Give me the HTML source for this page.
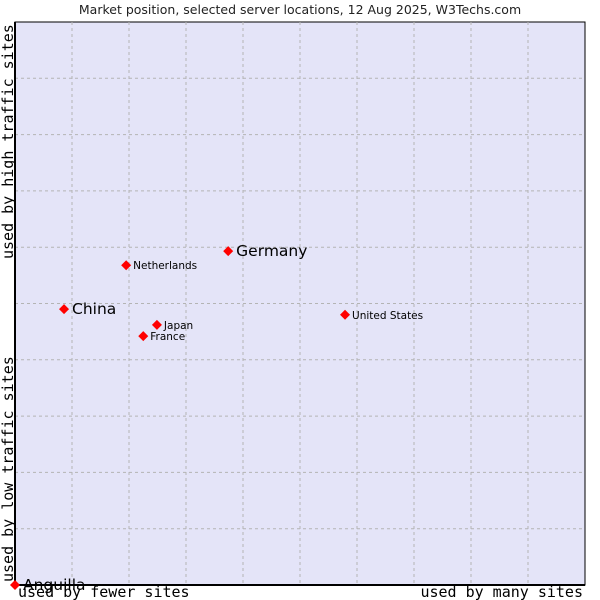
<!DOCTYPE html>
<html><head><meta charset="utf-8"><style>body{margin:0;background:#fff}svg{display:block}</style></head>
<body>
<svg id="chart" width="600" height="600" xmlns="http://www.w3.org/2000/svg">
<text x="300" y="14" text-anchor="middle" font-family="DejaVu Sans, sans-serif" font-size="12.5" fill="#222">Market position, selected server locations, 12 Aug 2025, W3Techs.com</text>
<rect x="15" y="22" width="570" height="563" fill="#e4e4f8" stroke="#000" stroke-width="1"/>
<g id="grid"></g>
<line x1="15" y1="22" x2="15" y2="585" stroke="#000" stroke-width="2"/>
<line x1="15" y1="585" x2="585" y2="585" stroke="#000" stroke-width="2"/>
<g id="points"></g>
<text x="18" y="597" font-family="DejaVu Sans Mono, monospace" font-size="15" fill="#000">used by fewer sites</text>
<text x="583" y="597" text-anchor="end" font-family="DejaVu Sans Mono, monospace" font-size="15" fill="#000">used by many sites</text>
<text transform="translate(13,582) rotate(-90)" font-family="DejaVu Sans Mono, monospace" font-size="15" fill="#000">used by low traffic sites</text>
<text transform="translate(13,259) rotate(-90)" font-family="DejaVu Sans Mono, monospace" font-size="15" fill="#000">used by high traffic sites</text>
</svg>
<script>
const names=["Anguilla","China","Netherlands","Germany","Japan","France","United States"];
const xVals=[0,8.6,19.5,37.4,24.9,22.5,57.9];
const yVals=[0,49.0,56.8,59.3,46.2,44.2,48.0];
const bigLabel=[true,true,false,true,false,false,false];
const NS="http://www.w3.org/2000/svg";
const X0=15,X1=585,Y0=585,Y1=22;
const xs=v=>X0+(X1-X0)*v/100, ys=v=>Y0-(Y0-Y1)*v/100;
const g=document.getElementById('grid');
for(let i=1;i<10;i++){
 let l=document.createElementNS(NS,'line');
 
 
 l.setAttribute('x1',xs(i*10));l.setAttribute('x2',xs(i*10));l.setAttribute('y1',Y1);l.setAttribute('y2',Y0);
 l.setAttribute('stroke','#b4b4b4');l.setAttribute('stroke-dasharray','3,3');g.appendChild(l);
 let h=document.createElementNS(NS,'line');
 
 
 h.setAttribute('x1',X0);h.setAttribute('x2',X1);h.setAttribute('y1',ys(i*10));h.setAttribute('y2',ys(i*10));
 h.setAttribute('stroke','#b4b4b4');h.setAttribute('stroke-dasharray','3,3');g.appendChild(h);
}
const p=document.getElementById('points');
names.forEach((n,i)=>{
 const cx=xs(xVals[i]),cy=ys(yVals[i]);
 let d=document.createElementNS(NS,'path');
 
 
 d.setAttribute('d',`M${cx} ${cy-5}L${cx+5} ${cy}L${cx} ${cy+5}L${cx-5} ${cy}Z`);
 d.setAttribute('fill','#f00');p.appendChild(d);
 let t=document.createElementNS(NS,'text');
 
 
 t.setAttribute('x',cx+(bigLabel[i]?8:7));t.setAttribute('y',cy+(bigLabel[i]?5:4));
 t.setAttribute('font-family','DejaVu Sans, sans-serif');
 t.setAttribute('font-size',bigLabel[i]?15.5:10.5);t.setAttribute('fill','#000');
 t.textContent=n;p.appendChild(t);
});
</script>
</body></html>
